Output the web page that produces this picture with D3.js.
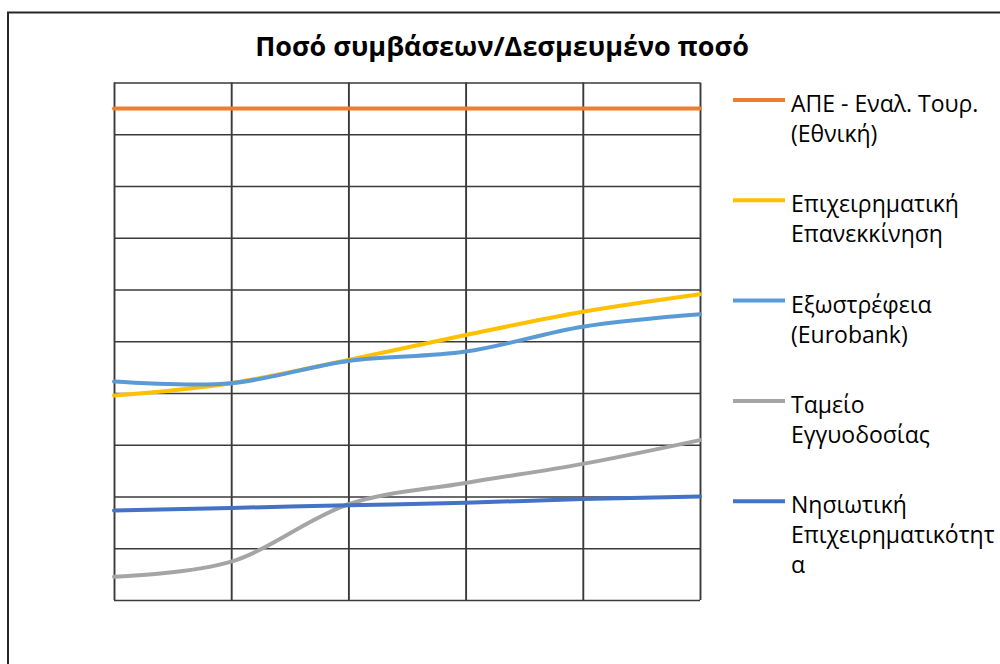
<!DOCTYPE html>
<html>
<head>
<meta charset="utf-8">
<script src="https://cdn.jsdelivr.net/npm/d3@7"></script>
<style>
  html, body { margin: 0; padding: 0; background: #fff; }
  svg { display: block; }
  text { font-family: "Open Sans", "Noto Sans", sans-serif; fill: #000; }
</style>
</head>
<body>
<svg id="chart" width="1000" height="664"></svg>
<script>
const title = "Ποσό συμβάσεων/Δεσμευμένο ποσό";
const categories = ["1", "2", "3", "4", "5", "6"];
const yTicks = [0, 1, 2, 3, 4, 5, 6, 7, 8, 9, 10];

const seriesNames = [
  "ΑΠΕ - Εναλ. Τουρ. (Εθνική)",
  "Επιχειρηματική Επανεκκίνηση",
  "Εξωστρέφεια (Eurobank)",
  "Ταμείο Εγγυοδοσίας",
  "Νησιωτική Επιχειρηματικότητα"
];
const legendLines = [
  ["ΑΠΕ - Εναλ. Τουρ.", "(Εθνική)"],
  ["Επιχειρηματική", "Επανεκκίνηση"],
  ["Εξωστρέφεια", "(Eurobank)"],
  ["Ταμείο", "Εγγυοδοσίας"],
  ["Νησιωτική", "Επιχειρηματικότητ", "α"]
];
const seriesColors = ["#ED7D31", "#FFC000", "#5B9BD5", "#A5A5A5", "#4472C4"];

const valuesApe        = [9.5, 9.5, 9.5, 9.5, 9.5, 9.5];
const valuesEpanekkin  = [3.95, 4.19, 4.64, 5.12, 5.57, 5.91];
const valuesExostrefia = [4.22, 4.19, 4.62, 4.80, 5.28, 5.52];
const valuesTameio     = [0.45, 0.74, 1.85, 2.26, 2.63, 3.09];
const valuesNisiotiki  = [1.73, 1.78, 1.83, 1.88, 1.95, 2.00];

const seriesValues = [valuesApe, valuesEpanekkin, valuesExostrefia, valuesTameio, valuesNisiotiki];

const svg = d3.select("#chart");

// outer frame (only top and left visible)
svg.append("path")
  .attr("d", "M8,664 L8,12.5 L1000,12.5")
  .attr("fill", "none")
  .attr("stroke", "#262626")
  .attr("stroke-width", 2);

svg.append("text")
  .attr("x", 502)
  .attr("y", 56)
  .attr("text-anchor", "middle")
  .style("font-size", "27px")
  .style("font-weight", "bold")
  .text(title);

const plot = { left: 114, right: 700, top: 82.5, bottom: 600 };

const x = d3.scalePoint().domain(categories).range([plot.left, plot.right]);
const y = d3.scaleLinear().domain([0, 10]).range([plot.bottom, plot.top]);

const grid = svg.append("g");
grid.append("g")
  .attr("transform", `translate(${plot.left},0)`)
  .call(d3.axisLeft(y).tickValues(yTicks).tickSize(-(plot.right - plot.left)).tickFormat(""))
  .call(g => g.select(".domain").remove())
  .call(g => g.selectAll("line").attr("stroke", "#3a3a3a").attr("stroke-width", 1.7));

grid.append("g")
  .attr("transform", `translate(0,${plot.bottom})`)
  .call(d3.axisBottom(x).tickSize(-(plot.bottom - plot.top)).tickFormat(""))
  .call(g => g.select(".domain").remove())
  .call(g => g.selectAll("line").attr("stroke", "#3a3a3a").attr("stroke-width", 1.9));

const line = d3.line()
  .x((d, i) => x(categories[i]))
  .y(d => y(d))
  .curve(d3.curveCardinal.tension(0));

seriesValues.forEach((vals, i) => {
  svg.append("path")
    .datum(vals)
    .attr("fill", "none")
    .attr("stroke", seriesColors[i])
    .attr("stroke-width", 4)
    .attr("stroke-linecap", "round")
    .attr("d", line);
});

// legend
const legend = svg.append("g");
const legendTop = 100, legendStep = 100.3;
legendLines.forEach((lines, i) => {
  const ly = legendTop + i * legendStep;
  const g = legend.append("g");
  g.append("line")
    .attr("x1", 733).attr("x2", 785)
    .attr("y1", ly).attr("y2", ly)
    .attr("stroke", seriesColors[i])
    .attr("stroke-width", 4);
  const t = g.append("text")
    .attr("x", 791)
    .attr("y", ly + 12)
    .style("font-size", "23px");
  lines.forEach((s, k) => {
    t.append("tspan").attr("x", 791).attr("dy", k === 0 ? 0 : 30).text(s);
  });
});
</script>
</body>
</html>
